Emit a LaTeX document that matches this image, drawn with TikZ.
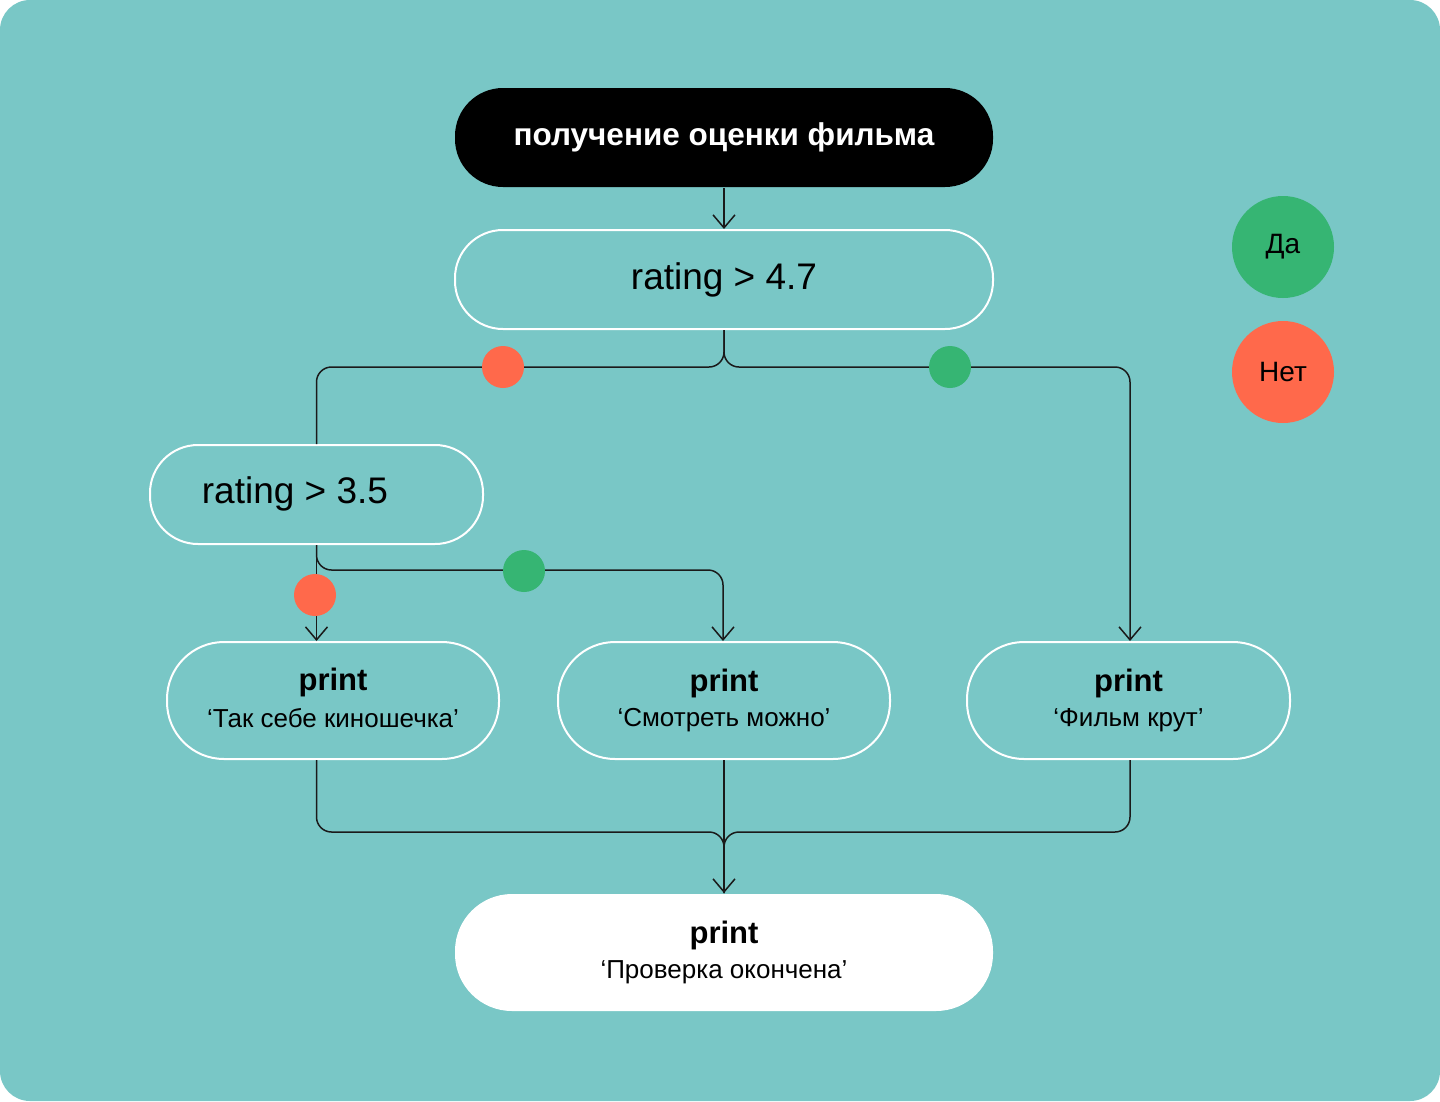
\documentclass[tikz,border=0pt]{standalone}
\usepackage{fontspec}
\setmainfont{Liberation Sans}
\usetikzlibrary{arrows.meta}
\definecolor{bg}{HTML}{79C7C6}
\definecolor{yes}{HTML}{36B573}
\definecolor{no}{HTML}{FF694B}
\definecolor{ink}{HTML}{1A1A1A}
\newcommand{\prtxt}[1]{{\bfseries\fontsize{31}{36}\selectfont print}\\[10pt]{\fontsize{26}{28}\selectfont #1\vphantom{р}}}
\begin{document}
\begin{tikzpicture}[x=1pt,y=-1pt,
  stad/.style={draw=white, line width=2pt, minimum width=#1, minimum height=99pt, rounded corners=48pt, inner sep=0pt, align=center},
  tall/.style={draw=white, line width=2pt, minimum width=#1, minimum height=117pt, rounded corners=57pt, inner sep=0pt, align=center},
  conn/.style={draw=ink, line width=1.5pt, rounded corners=15pt},
  tip/.style={-{Straight Barb[length=13pt,width=22pt,line width=1.5pt]}},
  dot/.style={circle, fill=#1, minimum size=42pt, inner sep=0pt},
  legend/.style={circle, fill=#1, minimum size=102pt, inner sep=0pt, font=\fontsize{28}{32}\selectfont, text=black},
  big/.style={font=\fontsize{37}{42}\selectfont},
]
\useasboundingbox (0,0) rectangle (1440,1101);
\fill[white] (0,0) rectangle (1440,1101);
\fill[bg, rounded corners=30pt] (0,0) rectangle (1440,1101);

% nodes
\node[stad=538pt, draw=none, fill=black, text=white, font=\bfseries\fontsize{31.5}{36}\selectfont] (top) at (724,137.5) {получение оценки фильма};
\node[stad=538pt, big] (r47) at (724,279.5) {rating > 4.7};
\node[stad=333pt] (r35) at (316.5,494.5) {};
\node[big] (r35t) at (295,494) {rating > 3.5};
\node[tall=332pt] (p1) at (333,700.5) {\prtxt{‘Так себе киношечка’}};
\node[tall=332pt] (p2) at (724,700.5) {\prtxt{‘Смотреть можно’}};
\node[tall=323pt] (p3) at (1128.5,700.5) {\prtxt{‘Фильм крут’}};
\node[tall=538pt, draw=none, fill=white] (fin) at (724,952.5) {\prtxt{‘Проверка окончена’}};

% junction points
\coordinate (jL) at (316.5,367);
\coordinate (jR) at (1130,367);
\coordinate (jM) at (723,570);
\coordinate (jB) at (724,832);
\coordinate (b1) at (316.5,759);
\coordinate (b3) at (1130,759);

% connectors
\draw[conn, tip] (top) -- (r47);
\draw[conn] (r47.south) |- (jL) -- (r35.north);
\draw[conn, tip] (r47.south) |- (jR) -- (jR |- p3.north);
\draw[conn, tip] (r35.south) -- (r35.south |- p1.north);
\draw[conn, tip] (r35.south) |- (jM) -- (jM |- p2.north);
\draw[conn] (b1 |- p1.south) |- (jB) -- (fin.north);
\draw[conn] (b3 |- p3.south) |- (jB) -- (fin.north);
\draw[conn, tip] (p2.south) -- (fin.north);

% decision dots
\node[dot=no] (d1) at (503,367) {};
\node[dot=yes] (d2) at (950,367) {};
\node[dot=no] (d3) at (315,595) {};
\node[dot=yes] (d4) at (524,571) {};

% legend
\node[legend=yes] (da) at (1283,247) {Да};
\node[legend=no] (net) at (1283,372) {Нет};
\end{tikzpicture}
\end{document}
